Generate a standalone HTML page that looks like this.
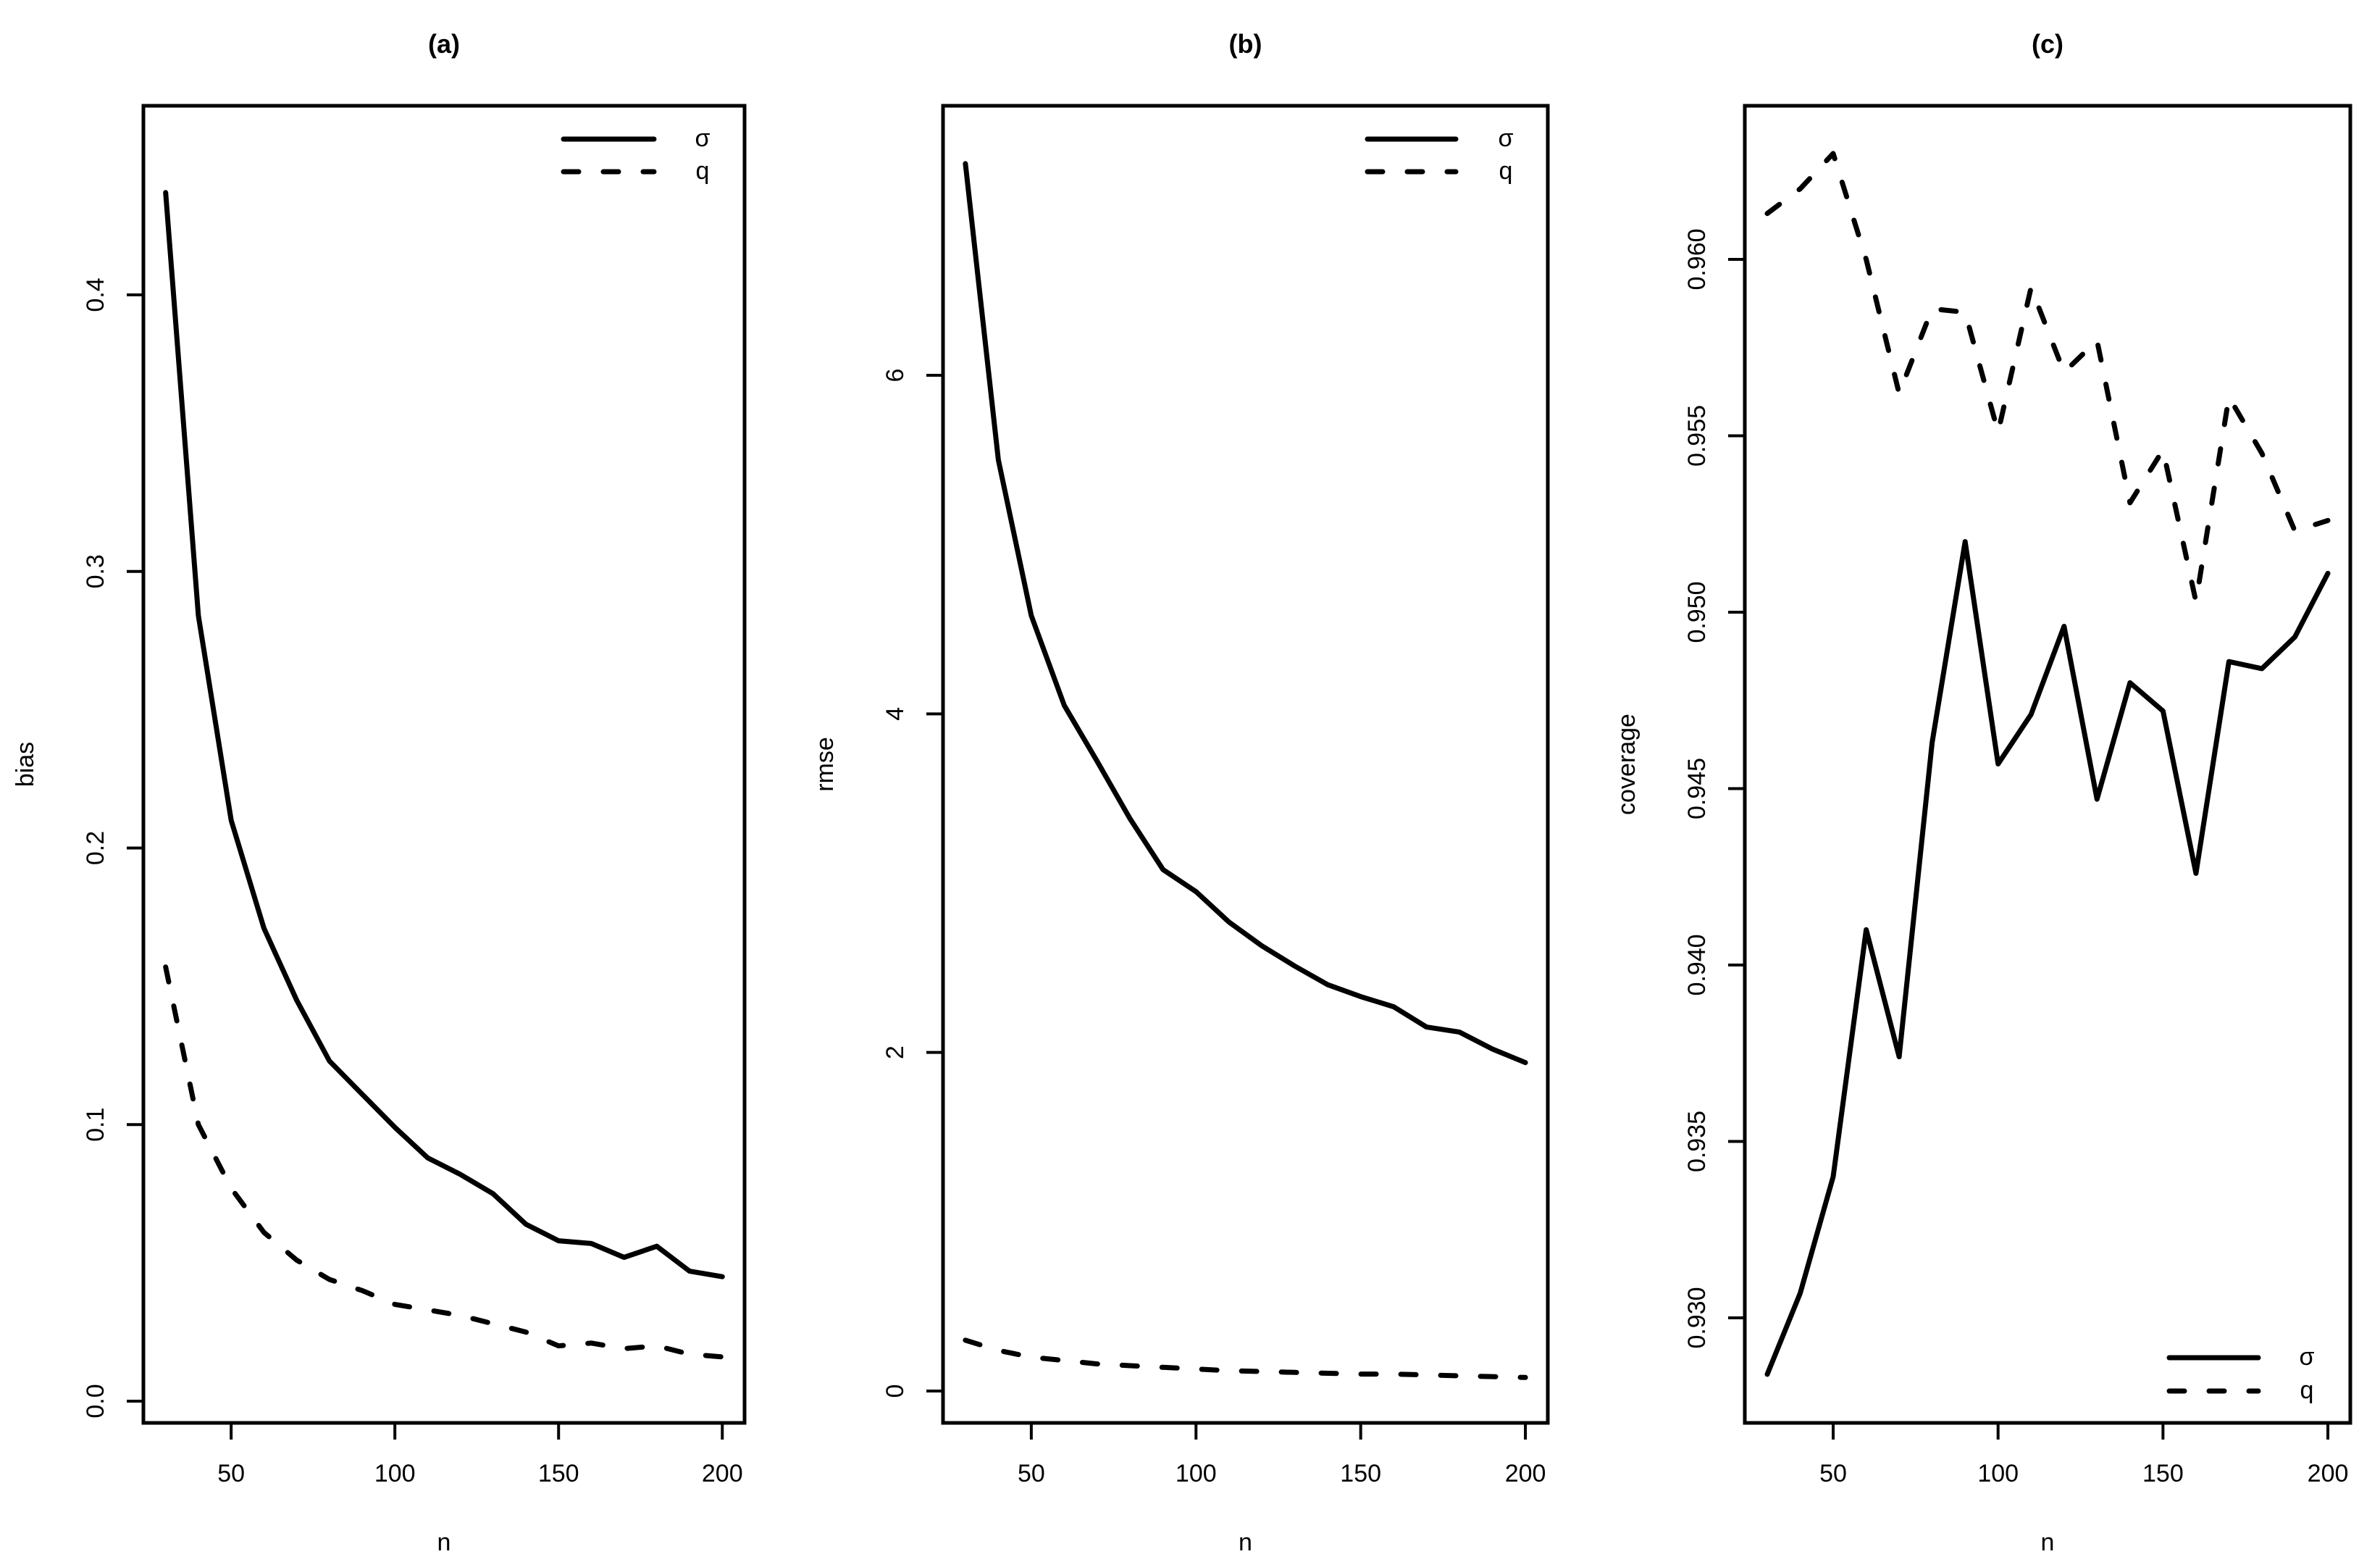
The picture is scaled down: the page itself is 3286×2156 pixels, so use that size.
<!DOCTYPE html>
<html><head><meta charset="utf-8"><style>
html,body{margin:0;padding:0;background:#fff;}
svg{display:block;font-family:"Liberation Sans",sans-serif;}
</style></head><body>
<svg id="chart" width="3286" height="2156" viewBox="0 0 3286 2156" xmlns="http://www.w3.org/2000/svg"></svg>
<script>
const nValues = [30,40,50,60,70,80,90,100,110,120,130,140,150,160,170,180,190,200];
const xTicks = [50,100,150,200];
const biasSigma = [0.437,0.284,0.210,0.171,0.145,0.123,0.111,0.099,0.088,0.082,0.075,0.064,0.058,0.057,0.052,0.056,0.047,0.045];
const biasQ = [0.157,0.100,0.077,0.061,0.051,0.044,0.040,0.035,0.033,0.031,0.028,0.025,0.020,0.021,0.019,0.020,0.017,0.016];
const biasTicks = [0,0.1,0.2,0.3,0.4];
const biasTickLabels = ["0.0","0.1","0.2","0.3","0.4"];
const rmseSigma = [7.25,5.5,4.58,4.05,3.72,3.38,3.08,2.95,2.77,2.63,2.51,2.40,2.33,2.27,2.15,2.12,2.02,1.94];
const rmseQ = [0.30,0.24,0.20,0.18,0.16,0.15,0.14,0.13,0.12,0.115,0.11,0.105,0.10,0.10,0.095,0.09,0.085,0.08];
const rmseTicks = [0,2,4,6];
const rmseTickLabels = ["0","2","4","6"];
const covSigma = [0.9284,0.9307,0.9340,0.9410,0.9374,0.9463,0.9520,0.9457,0.9471,0.9496,0.9447,0.9480,0.9472,0.9426,0.9486,0.9484,0.9493,0.9511];
const covQ = [0.9613,0.9620,0.9630,0.9600,0.9562,0.9586,0.9585,0.9551,0.9592,0.9568,0.9577,0.9531,0.9546,0.9503,0.9561,0.9545,0.9523,0.9526];
const covTicks = [0.930,0.935,0.940,0.945,0.950,0.955,0.960];
const covTickLabels = ["0.930","0.935","0.940","0.945","0.950","0.955","0.960"];

const NS="http://www.w3.org/2000/svg";
const svg=document.getElementById('chart');
function mk(tag,attrs,parent){const e=document.createElementNS(NS,tag);for(const k in attrs)e.setAttribute(k,attrs[k]);(parent||svg).appendChild(e);return e;}

const TOP=146,BOT=1964,XMIN=23.2,XMAX=206.8;
function panel(cfg){
  const W=cfg.width;
  const g=mk('g',{});
  
  
  const L=cfg.left;
  const xs=v=>L+(v-XMIN)/(XMAX-XMIN)*W;
  const ys=v=>cfg.y0px+(v-cfg.y0)*(cfg.y1px-cfg.y0px)/(cfg.y1-cfg.y0);
  const t=mk('text',{x:L+W/2,y:73,'text-anchor':'middle','font-size':36,'font-weight':'bold'},g);
  t.textContent=cfg.title;
  
  
  const box=mk('rect',{x:L,y:TOP,width:W,height:BOT-TOP,fill:'none',stroke:'#000','stroke-width':5},g);
  
  
  xTicks.forEach(v=>{
    const x=xs(v);
    const tk=mk('line',{x1:x,x2:x,y1:BOT,y2:BOT+23,stroke:'#000','stroke-width':4},g);
    
    
    const tl=mk('text',{x:x,y:2045,'text-anchor':'middle','font-size':34},g);
    tl.textContent=String(v);
    
    
  });
  cfg.ticks.forEach((v,i)=>{
    const y=ys(v);
    const tk=mk('line',{x1:L-23,x2:L,y1:y,y2:y,stroke:'#000','stroke-width':4},g);
    
    
    const tl=mk('text',{x:L-55,y:y,'text-anchor':'middle','font-size':34,transform:`rotate(-90 ${L-55} ${y})`},g);
    tl.textContent=cfg.tickLabels[i];
    
    
  });
  const xl=mk('text',{x:L+W/2,y:2140,'text-anchor':'middle','font-size':34},g);
  xl.textContent='n';
  
  
  const yx=L-152,yy=(TOP+BOT)/2;
  const yl=mk('text',{x:yx,y:yy,'text-anchor':'middle','font-size':34,transform:`rotate(-90 ${yx} ${yy})`},g);
  yl.textContent=cfg.ylab;
  
  
  const pts=a=>a.map((v,i)=>xs(nValues[i]).toFixed(1)+','+ys(v).toFixed(1)).join(' ');
  const s=mk('polyline',{points:pts(cfg.sigma),fill:'none',stroke:'#000','stroke-width':7,'stroke-linejoin':'round','stroke-linecap':'round'},g);
  
  
  const q=mk('polyline',{points:pts(cfg.q),fill:'none',stroke:'#000','stroke-width':7,'stroke-dasharray':'21 34','stroke-linejoin':'round','stroke-linecap':'round'},g);
  
  
  const lg=mk('g',{},g);
  
  
  const lx1=L+cfg.lg[0],lx2=L+cfg.lg[1],ly1=cfg.lg[2],ly2=cfg.lg[3],lt=L+cfg.lg[4];
  const e1=mk('line',{x1:lx1,x2:lx2,y1:ly1,y2:ly1,stroke:'#000','stroke-width':7,'stroke-linecap':'round'},lg);
  
  
  const e2=mk('line',{x1:lx1,x2:lx2,y1:ly2,y2:ly2,stroke:'#000','stroke-width':7,'stroke-dasharray':'21 34','stroke-linecap':'round'},lg);
  
  
  const t1=mk('text',{x:lt,y:ly1+10,'text-anchor':'middle','font-size':34},lg);
  t1.textContent='σ';
  
  
  const t2=mk('text',{x:lt,y:ly2+10,'text-anchor':'middle','font-size':34},lg);
  t2.textContent='q';
  
  
}
panel({key:'bias',title:'(a)',ylab:'bias',left:198,width:830,y0:0,y0px:1934,y1:0.4,y1px:407,ticks:biasTicks,tickLabels:biasTickLabels,sigma:biasSigma,q:biasQ,lg:[580,705,192,237,772]});
panel({key:'rmse',title:'(b)',ylab:'rmse',left:1302,width:835,y0:0,y0px:1920,y1:6,y1px:518,ticks:rmseTicks,tickLabels:rmseTickLabels,sigma:rmseSigma,q:rmseQ,lg:[586,708,192,237,777]});
panel({key:'coverage',title:'(c)',ylab:'coverage',left:2409,width:836,y0:0.930,y0px:1819,y1:0.960,y1px:358,ticks:covTicks,tickLabels:covTickLabels,sigma:covSigma,q:covQ,lg:[586,709,1874,1920,776]});
</script>
</body></html>
